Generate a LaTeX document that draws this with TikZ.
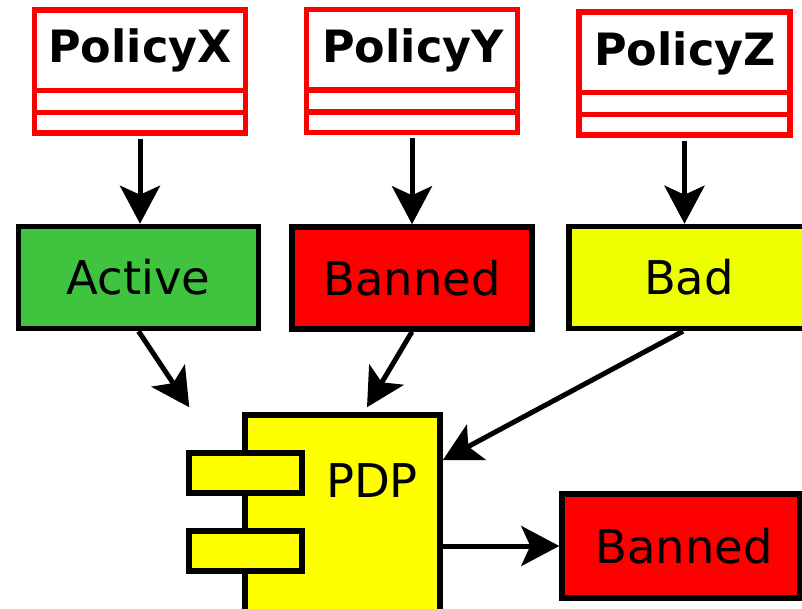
\documentclass[tikz,border=0pt]{standalone}
\usepackage{fontspec}
\setmainfont{DejaVu Sans}
\usetikzlibrary{arrows.meta}
\definecolor{actgreen}{RGB}{64,196,64}
\definecolor{badyellow}{RGB}{238,255,0}
\definecolor{pdpyellow}{RGB}{255,255,0}
\tikzset{
  policy/.style={draw=red, fill=white, line width=5.5pt, minimum width=211pt, minimum height=123pt, inner sep=0pt},
  ptitle/.style={anchor=base, inner sep=0pt, font=\fontsize{44.5}{50}\selectfont\bfseries},
  divider/.style={draw=red, line width=5.5pt},
  state/.style={draw=black, line width=5.5pt, minimum width=240pt, minimum height=102pt, inner sep=0pt, font=\fontsize{46.5}{52}\selectfont},
  port/.style={draw=black, fill=pdpyellow, line width=5.5pt, minimum width=113pt, minimum height=40pt, inner sep=0pt},
  arr/.style={line width=5pt, -{Stealth[length=38pt, width=40pt, inset=9pt]}}
}
\begin{document}
\begin{tikzpicture}[x=1pt, y=-1pt]
\useasboundingbox (0,0) rectangle (802,609);
\clip (0,0) rectangle (802,609);

% policy classes
\node[policy] (px) at (140,71.5) {};
\node[policy] (py) at (412,71) {};
\node[policy] (pz) at (684.5,73.5) {};
\foreach \p in {px,py,pz}{
  \draw[divider] ([yshift=45pt]\p.south west) -- ([yshift=45pt]\p.south east);
  \draw[divider] ([yshift=23pt]\p.south west) -- ([yshift=23pt]\p.south east);
}
\node[ptitle] (pxt) at (140,63) {PolicyX};
\node[ptitle] (pyt) at (413,63) {PolicyY};
\node[ptitle] (pzt) at (685,66) {PolicyZ};

% evaluated states
\node[state, fill=actgreen] (act) at (138.5,277.5) {Active};
\node[state, fill=red] (ban) at (412,278) {Banned};
\node[state, fill=badyellow] (bad) at (689,277.5) {Bad};

% decision point component
\node[draw=black, fill=pdpyellow, line width=5.5pt, minimum width=195pt, minimum height=225pt, inner sep=0pt] (pdp) at (342.5,527.5) {};
\node[port] (port1) at (245.5,473) {};
\node[port] (port2) at (245.5,551) {};
\node[anchor=base, inner sep=0pt, font=\fontsize{46.5}{52}\selectfont] (pdpt) at (372,497) {PDP};

% result
\node[state, fill=red, minimum width=238pt, minimum height=104pt] (res) at (681,546) {\hspace*{6pt}Banned};

% connectors
\draw[arr] ([yshift=-3pt]px.south) -- (px.south |- act.north);
\draw[arr] ([yshift=-3pt]py.south) -- (py.south |- ban.north);
\draw[arr] ([yshift=-3pt]pz.south) -- (pz.south |- bad.north);
\draw[arr] (act.south) -- ([xshift=-53pt, yshift=5pt]pdp.north west);
\draw[arr] (ban.south) -- ([xshift=24.5pt, yshift=5pt]pdp.north);
\draw[arr] ([xshift=-6pt]bad.south) -- ([yshift=-48pt]pdp.north east);
\draw[arr] (res.west -| pdp.east) -- (res.west);
\end{tikzpicture}
\end{document}
